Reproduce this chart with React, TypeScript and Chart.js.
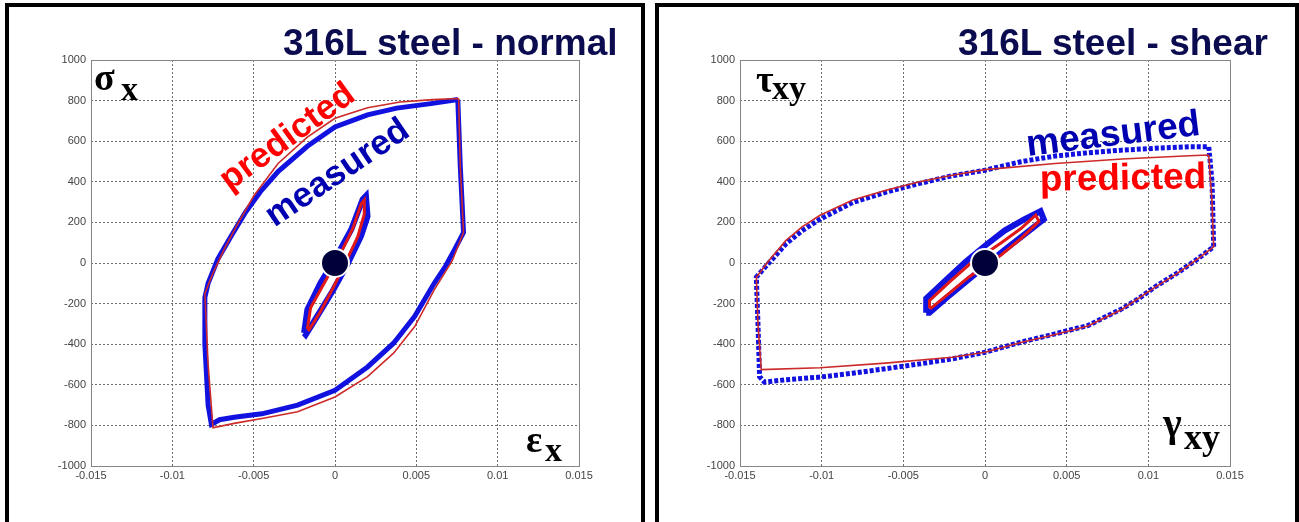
import React, { useEffect, useRef } from 'react';
import { Chart, registerables } from 'chart.js';
Chart.register(...registerables);

// ---------- axis ticks ----------
const xTickValues = [-0.015, -0.01, -0.005, 0, 0.005, 0.01, 0.015];
const xTickLabels = ['-0.015', '-0.01', '-0.005', '0', '0.005', '0.01', '0.015'];
const yTickValues = [-1000, -800, -600, -400, -200, 0, 200, 400, 600, 800, 1000];
const yTickLabels = ['-1000', '-800', '-600', '-400', '-200', '0', '200', '400', '600', '800', '1000'];

// ---------- left panel: 316L steel - normal ----------
const normalMeasuredOuterX = [0.00755, 0.0077, 0.0079, 0.00735, 0.0068, 0.0061, 0.0049, 0.0036, 0.002, 0.0, -0.0023, -0.0045, -0.0062, -0.0071, -0.0076, -0.0078, -0.008, -0.008, -0.0078, -0.0072, -0.0064, -0.0055, -0.0046, -0.0035, -0.0017, 0.0, 0.002, 0.0038, 0.0059, 0.00755];
const normalMeasuredOuterY = [805, 480, 150, 66, -15, -100, -263, -395, -512, -627, -700, -743, -760, -772, -795, -700, -400, -170, -100, 20, 130, 250, 350, 450, 575, 670, 730, 763, 785, 805];
const normalPredictedOuterX = [0.0076, 0.0077, 0.0079, 0.0072, 0.0061, 0.0049, 0.0036, 0.002, 0.0, -0.0023, -0.0044, -0.0062, -0.0075, -0.0078, -0.008, -0.0075, -0.0068, -0.006, -0.005, -0.0035, -0.0017, 0.0, 0.002, 0.004, 0.006, 0.0076];
const normalPredictedOuterY = [810, 480, 150, 10, -132, -313, -444, -560, -660, -733, -765, -790, -812, -500, -150, -50, 70, 190, 330, 490, 620, 713, 765, 793, 805, 810];
const normalMeasuredInnerX = [-0.0019, -0.0017, -0.0009, 0.0001, 0.001, 0.0017, 0.0019, 0.002, 0.0016, 0.0008, -0.0001, -0.0011, -0.0018, -0.0019];
const normalMeasuredInnerY = [-345, -230, -100, 33, 165, 313, 330, 230, 132, 0, -132, -263, -354, -345];
const normalPredictedInnerX = [-0.0017, -0.0015, -0.0006, 0.0003, 0.0011, 0.0016, 0.0018, 0.0018, 0.0014, 0.0007, -0.0001, -0.0009, -0.0016, -0.0017];
const normalPredictedInnerY = [-325, -220, -90, 40, 170, 290, 310, 240, 130, 10, -120, -240, -330, -325];

// ---------- right panel: 316L steel - shear ----------
const shearMeasuredOuterX = [0.0137, 0.0139, 0.014, 0.0129, 0.0117, 0.0104, 0.0094, 0.0084, 0.0063, 0.0043, 0.0022, 0.0, -0.002, -0.004, -0.0061, -0.0081, -0.0101, -0.0122, -0.0135, -0.0138, -0.0139, -0.014, -0.0132, -0.0122, -0.0112, -0.0101, -0.0091, -0.0081, -0.0071, -0.0061, -0.005, -0.004, -0.002, 0.0, 0.0022, 0.0043, 0.0063, 0.0084, 0.0104, 0.0125, 0.0137];
const shearMeasuredOuterY = [572, 400, 80, 13, -53, -118, -176, -225, -308, -349, -390, -440, -472, -497, -521, -543, -562, -575, -587, -560, -300, -70, 3, 93, 159, 216, 257, 298, 323, 348, 372, 392, 430, 457, 499, 527, 543, 556, 565, 573, 572];
const shearPredictedOuterX = [0.0137, 0.0139, 0.014, 0.0129, 0.0117, 0.0104, 0.0084, 0.0063, 0.0043, 0.0022, 0.0, -0.002, -0.0061, -0.0101, -0.0137, -0.0139, -0.014, -0.0132, -0.0122, -0.0112, -0.0101, -0.0081, -0.006, -0.004, -0.002, 0.0, 0.0043, 0.0084, 0.0125, 0.0137];
const shearPredictedOuterY = [532, 300, 79, 13, -55, -120, -228, -310, -352, -392, -440, -464, -493, -516, -525, -300, -70, 15, 110, 178, 235, 310, 360, 400, 432, 460, 490, 512, 528, 532];
const shearMeasuredInnerX = [-0.0036, -0.0036, -0.0024, -0.0012, 0.0, 0.0012, 0.0024, 0.0034, 0.0036, 0.0024, 0.0012, 0.0, -0.0012, -0.0024, -0.0034, -0.0036];
const shearMeasuredInnerY = [-245, -175, -85, 5, 85, 160, 215, 255, 215, 140, 65, -15, -95, -175, -245, -245];
const shearPredictedInnerX = [-0.0034, -0.0034, -0.0022, -0.001, 0.001, 0.0022, 0.0031, 0.0033, 0.0022, 0.001, -0.001, -0.0022, -0.0033, -0.0034];
const shearPredictedInnerY = [-222, -185, -95, -10, 100, 170, 236, 205, 120, 40, -70, -150, -222, -222];

const originX = [0];
const originY = [0];

const BLUE = '#1212e0';
const RED = '#e01818';
const RED_THIN = '#cc2a2a';

const zip = (xs: number[], ys: number[]) => xs.map((x, i) => ({ x, y: ys[i] }));

const framePlugin = {
  id: 'frame',
  beforeDatasetsDraw(chart: any) {
    const { ctx, chartArea } = chart;
    const l = Math.round(chartArea.left) + 0.5;
    const t = Math.round(chartArea.top) + 0.5;
    const w = Math.round(chartArea.right - chartArea.left);
    const h = Math.round(chartArea.bottom - chartArea.top);
    ctx.save();
    ctx.strokeStyle = '#858585';
    ctx.lineWidth = 1;
    ctx.setLineDash([]);
    ctx.strokeRect(l, t, w, h);
    ctx.restore();
  },
};

function makeDatasets(mo: any[], po: any[], mi: any[], pi: any[], dashedMeasured: boolean) {
  return [
    {
      data: zip(originX, originY), showLine: false, pointRadius: 14, pointBorderWidth: 2,
      pointBackgroundColor: '#00003a', pointBorderColor: '#ffffff', order: 0,
    },
    { data: pi, showLine: true, borderColor: RED, borderWidth: 3, pointRadius: 0, tension: 0, order: 1 },
    { data: po, showLine: true, borderColor: RED_THIN, borderWidth: 1.6, pointRadius: 0, tension: 0, order: 2 },
    { data: mi, showLine: true, borderColor: BLUE, borderWidth: 6, pointRadius: 0, tension: 0, order: 3 },
    {
      data: mo, showLine: true, borderColor: BLUE, borderWidth: 5, pointRadius: 0, tension: 0, order: 4,
      borderDash: dashedMeasured ? [4, 2] : [],
    },
  ];
}

function makeConfig(datasets: any[], yWidth: number, padRight: number): any {
  const tickFont = { family: "'Liberation Sans', Arial, sans-serif", size: 11 };
  return {
    type: 'scatter',
    data: { datasets },
    options: {
      animation: false,
      responsive: false,
      events: [],
      plugins: { legend: { display: false }, tooltip: { enabled: false }, title: { display: false } },
      layout: { padding: { top: 60, right: padRight, left: 0, bottom: 0 } },
      scales: {
        x: {
          type: 'linear', min: -0.015, max: 0.015,
          afterBuildTicks: (s: any) => { s.ticks = xTickValues.map((v) => ({ value: v })); },
          afterFit: (s: any) => { s.height = 56; },
          ticks: { callback: (_v: any, i: number) => xTickLabels[i], padding: 3, color: '#444', font: tickFont, maxRotation: 0, minRotation: 0, autoSkip: false },
          grid: { color: '#6e6e6e', lineWidth: 1, drawTicks: false },
          border: { display: false, dash: [2, 2] },
        },
        y: {
          type: 'linear', min: -1000, max: 1000,
          afterBuildTicks: (s: any) => { s.ticks = yTickValues.map((v) => ({ value: v })); },
          afterFit: (s: any) => { s.width = yWidth; },
          ticks: { callback: (_v: any, i: number) => yTickLabels[i], padding: 5, color: '#444', font: tickFont, autoSkip: false },
          grid: { color: '#6e6e6e', lineWidth: 1, drawTicks: false },
          border: { display: false, dash: [2, 2] },
        },
      },
    },
    plugins: [framePlugin],
  };
}

const SANS = "'Liberation Sans', Arial, sans-serif";
const SERIF = "'Liberation Serif', 'Times New Roman', serif";

// text positioned by its baseline (line-height 1)
function BaseText(props: { text: string; left: number; baseline: number; size: number; family: string; color: string; k: number }) {
  const { text, left, baseline, size, family, color, k } = props;
  return (
    <div style={{
      position: 'absolute', left, top: baseline - k * size, font: `bold ${size}px ${family}`,
      lineHeight: 1, color, whiteSpace: 'nowrap',
    }}>{text}</div>
  );
}

function RotText(props: { text: string; cx: number; cy: number; size: number; color: string; angle: number }) {
  const { text, cx, cy, size, color, angle } = props;
  return (
    <div style={{
      position: 'absolute', left: cx, top: cy, font: `bold ${size}px ${SANS}`, lineHeight: 1, color,
      whiteSpace: 'nowrap', transform: `translate(-50%, -50%) rotate(${angle}deg)`,
    }}>{text}</div>
  );
}

export default function App() {
  const leftRef = useRef<HTMLCanvasElement | null>(null);
  const rightRef = useRef<HTMLCanvasElement | null>(null);

  useEffect(() => {
    const left = new Chart(leftRef.current as HTMLCanvasElement, makeConfig(
      makeDatasets(
        zip(normalMeasuredOuterX, normalMeasuredOuterY),
        zip(normalPredictedOuterX, normalPredictedOuterY),
        zip(normalMeasuredInnerX, normalMeasuredInnerY),
        zip(normalPredictedInnerX, normalPredictedInnerY),
        false,
      ), 91, 66));
    const right = new Chart(rightRef.current as HTMLCanvasElement, makeConfig(
      makeDatasets(
        zip(shearMeasuredOuterX, shearMeasuredOuterY),
        zip(shearPredictedOuterX, shearPredictedOuterY),
        zip(shearMeasuredInnerX, shearMeasuredInnerY),
        zip(shearPredictedInnerX, shearPredictedInnerY),
        true,
      ), 90, 69));
    return () => { left.destroy(); right.destroy(); };
  }, []);

  const kS = 0.8465;
  const kT = 0.8375;
  const NAVY = '#0b0b50';

  return (
    <div style={{ position: 'absolute', left: 0, top: 0, width: 1299, height: 522, overflow: 'hidden', background: '#ffffff' }}>
      <canvas ref={leftRef} width={645} height={522} style={{ position: 'absolute', left: 0, top: 0 }} />
      <canvas ref={rightRef} width={649} height={522} style={{ position: 'absolute', left: 650, top: 0 }} />

      <div style={{ position: 'absolute', left: 5, top: 3, width: 640, height: 600, border: '4.5px solid #000', boxSizing: 'border-box' }} />
      <div style={{ position: 'absolute', left: 655, top: 3, width: 644, height: 600, border: '4.5px solid #000', boxSizing: 'border-box' }} />

      <BaseText text="316L steel - normal" left={283} baseline={55} size={37} family={SANS} color={NAVY} k={kS} />
      <BaseText text="316L steel - shear" left={958} baseline={55} size={37} family={SANS} color={NAVY} k={kS} />

      <BaseText text="σ" left={94} baseline={90} size={38} family={SERIF} color="#000" k={kT} />
      <BaseText text="x" left={121} baseline={100} size={34} family={SERIF} color="#000" k={kT} />
      <BaseText text="ε" left={526} baseline={452} size={38} family={SERIF} color="#000" k={kT} />
      <BaseText text="x" left={545} baseline={461} size={34} family={SERIF} color="#000" k={kT} />

      <BaseText text="τ" left={756} baseline={92} size={38} family={SERIF} color="#000" k={kT} />
      <BaseText text="xy" left={772} baseline={99.5} size={34} family={SERIF} color="#000" k={kT} />
      <BaseText text="γ" left={1163} baseline={436} size={40} family={SERIF} color="#000" k={kT} />
      <BaseText text="xy" left={1184} baseline={449} size={36} family={SERIF} color="#000" k={kT} />

      <RotText text="predicted" cx={285.5} cy={134.5} size={35} color="#ff0000" angle={-36} />
      <RotText text="measured" cx={335.8} cy={170.8} size={35} color="#0000b0" angle={-34} />
      <RotText text="measured" cx={1112.5} cy={132.5} size={37} color="#0000b0" angle={-7} />
      <RotText text="predicted" cx={1123} cy={177} size={37} color="#ff0000" angle={-1} />
    </div>
  );
}
